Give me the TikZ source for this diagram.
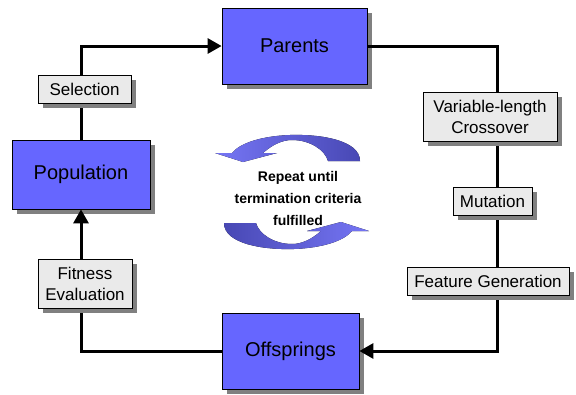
\documentclass[tikz,border=0pt]{standalone}
\usepackage{fontspec}
\setmainfont{Liberation Sans}
\usetikzlibrary{arrows.meta,shadows}
\definecolor{boxblue}{RGB}{102,102,255}
\definecolor{lblgray}{RGB}{234,234,234}
\definecolor{shadowgray}{RGB}{128,128,128}
\definecolor{arrowlight}{RGB}{118,118,245}
\definecolor{arrowdark}{RGB}{72,72,180}

\begin{document}
\begin{tikzpicture}[x=1pt,y=-1pt,
	box/.style={draw=black,line width=0.8pt,fill=boxblue,inner sep=0pt,
		drop shadow={shadow xshift=5pt,shadow yshift=-5pt,fill=shadowgray,opacity=1},
		font=\fontsize{20}{24}\selectfont},
	lbl/.style={draw=black,line width=0.8pt,fill=lblgray,inner sep=0pt,align=center,
		drop shadow={shadow xshift=5pt,shadow yshift=-5pt,fill=shadowgray,opacity=1},
		font=\fontsize{17}{21}\selectfont},
	conn/.style={line width=3pt,-{Triangle[length=14pt,width=15pt]}}]
			\useasboundingbox (0,0) rectangle (576,394);

			\node[box,minimum width=145,minimum height=76] (par) at (294.5,46) {Parents};
			\node[box,minimum width=138,minimum height=69] (pop) at (81,174.5) {Population};
			\node[box,minimum width=137,minimum height=76] (off) at (290.5,351) {Offsprings};

			\coordinate (rc) at (497,351);

			\draw[conn] (pop.north) |- (par.west);
			\draw[conn] (par.east) -| (rc) -- (off.east);
			\draw[conn] (off.west) -| (pop.south);

			\node[lbl,minimum width=93,minimum height=28] (sel) at (84.5,89) {Selection};
			\node[lbl,minimum width=94,minimum height=49] (fit) at (85,283.5) {Fitness\\Evaluation};
			\node[lbl,minimum width=134,minimum height=49] (cross) at (490,116.5) {Variable-length\\Crossover};
			\node[lbl,minimum width=79,minimum height=28] (mut) at (492.5,201) {Mutation};
			\node[lbl,minimum width=162,minimum height=28] (feat) at (488,281) {Feature Generation};

			% repeat arrows
			\fill[left color=arrowlight,right color=arrowdark] (360,161)
				.. controls (360,140) and (320,134) .. (290,135)
				.. controls (262,136) and (240,143) .. (232,153)
				-- (215,153) -- (243,162) -- (277,153) -- (263,153)
				.. controls (272,145) and (282,140) .. (292,140)
				.. controls (310,140) and (325,150) .. (328,161) -- cycle;
			\fill[left color=arrowdark,right color=arrowlight] (224,223)
				.. controls (224,244) and (264,250) .. (294,249)
				.. controls (322,248) and (344,241) .. (352,231)
				-- (369,231) -- (341,222) -- (307,231) -- (321,231)
				.. controls (312,239) and (302,244) .. (292,244)
				.. controls (274,244) and (259,234) .. (256,223) -- cycle;

			\node[align=center,font=\bfseries\fontsize{14}{22}\selectfont] (rep) at (298,198)
				{Repeat until\\termination criteria\\fulfilled};
		\end{tikzpicture}
\end{document}
